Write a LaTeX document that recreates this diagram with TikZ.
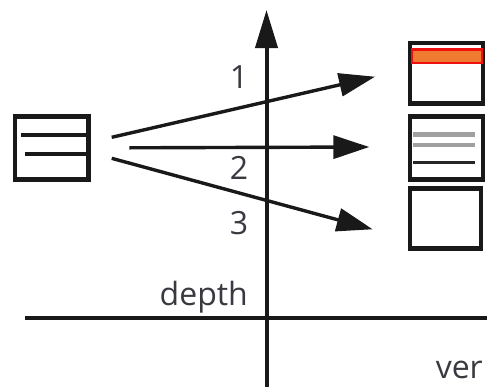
\documentclass[tikz,border=0pt]{standalone}
\usepackage{fontspec}
\setmainfont{Open Sans}
\usetikzlibrary{arrows.meta}
\definecolor{txt}{HTML}{3A3840}
\definecolor{barfill}{HTML}{EE7B30}
\definecolor{barline}{HTML}{F01010}
\definecolor{gline}{HTML}{A0A0A0}
\tikzset{
  box/.style={draw=black!90, line width=4.8pt},
  axis/.style={draw=black!90, line width=4pt},
  ray/.style={draw=black!90, line width=3.4pt, -{Triangle[length=36pt,width=23pt]}},
  lbl/.style={text=txt, font=\fontsize{32}{36}\selectfont, inner sep=0pt},
}
\begin{document}
\begin{tikzpicture}[x=1pt,y=-1pt]
\useasboundingbox (0,0) rectangle (487,386);
% axes
\coordinate (vb) at (266.5,390);
\coordinate (vt) at (266.5,10);
\coordinate (hl) at (25,317.5);
\coordinate (hr) at (490,317.5);
\draw[axis] (hl) -- (hr);
\draw[axis, -{Triangle[length=38pt,width=22pt]}] (vb) -- (vt);
% left box
\draw[box] (15,116.3) rectangle (88.5,179.5);
\draw[black!90, line width=4pt] (20.7,135) -- (88,135);
\draw[black!90, line width=4pt] (25,154.3) -- (88,154.3);
% right boxes
\draw[box] (410,43) rectangle (483,103.5);
\draw[line width=2.5pt, draw=barline, fill=barfill] (412,49.5) rectangle (482,63);
\draw[box] (410,116.8) rectangle (483,179.2);
\draw[gline, line width=4.5pt] (413,134.3) -- (475,134.3);
\draw[gline, line width=4.5pt] (413,145) -- (475,145);
\draw[black!85, line width=2.5pt] (413,162.7) -- (475,162.7);
\draw[box] (410,188.8) rectangle (481,248.8);
% rays
\coordinate (s1) at (111.7,137.3);
\coordinate (e1) at (375,76.7);
\coordinate (s2) at (129.3,147.8);
\coordinate (e2) at (369.3,147);
\coordinate (s3) at (111.7,158.3);
\coordinate (e3) at (372.7,229.3);
\draw[ray] (s1) -- (e1);
\draw[ray] (s2) -- (e2);
\draw[ray] (s3) -- (e3);
% labels
\node[lbl] (l1) at (239,77) {1};
\node[lbl] (l2) at (239,168) {2};
\node[lbl] (l3) at (239,223) {3};
\node[lbl, anchor=base east] (ld) at (248,305) {depth};
\node[lbl, anchor=base east] (lv) at (483,378) {ver};
\end{tikzpicture}
\end{document}
